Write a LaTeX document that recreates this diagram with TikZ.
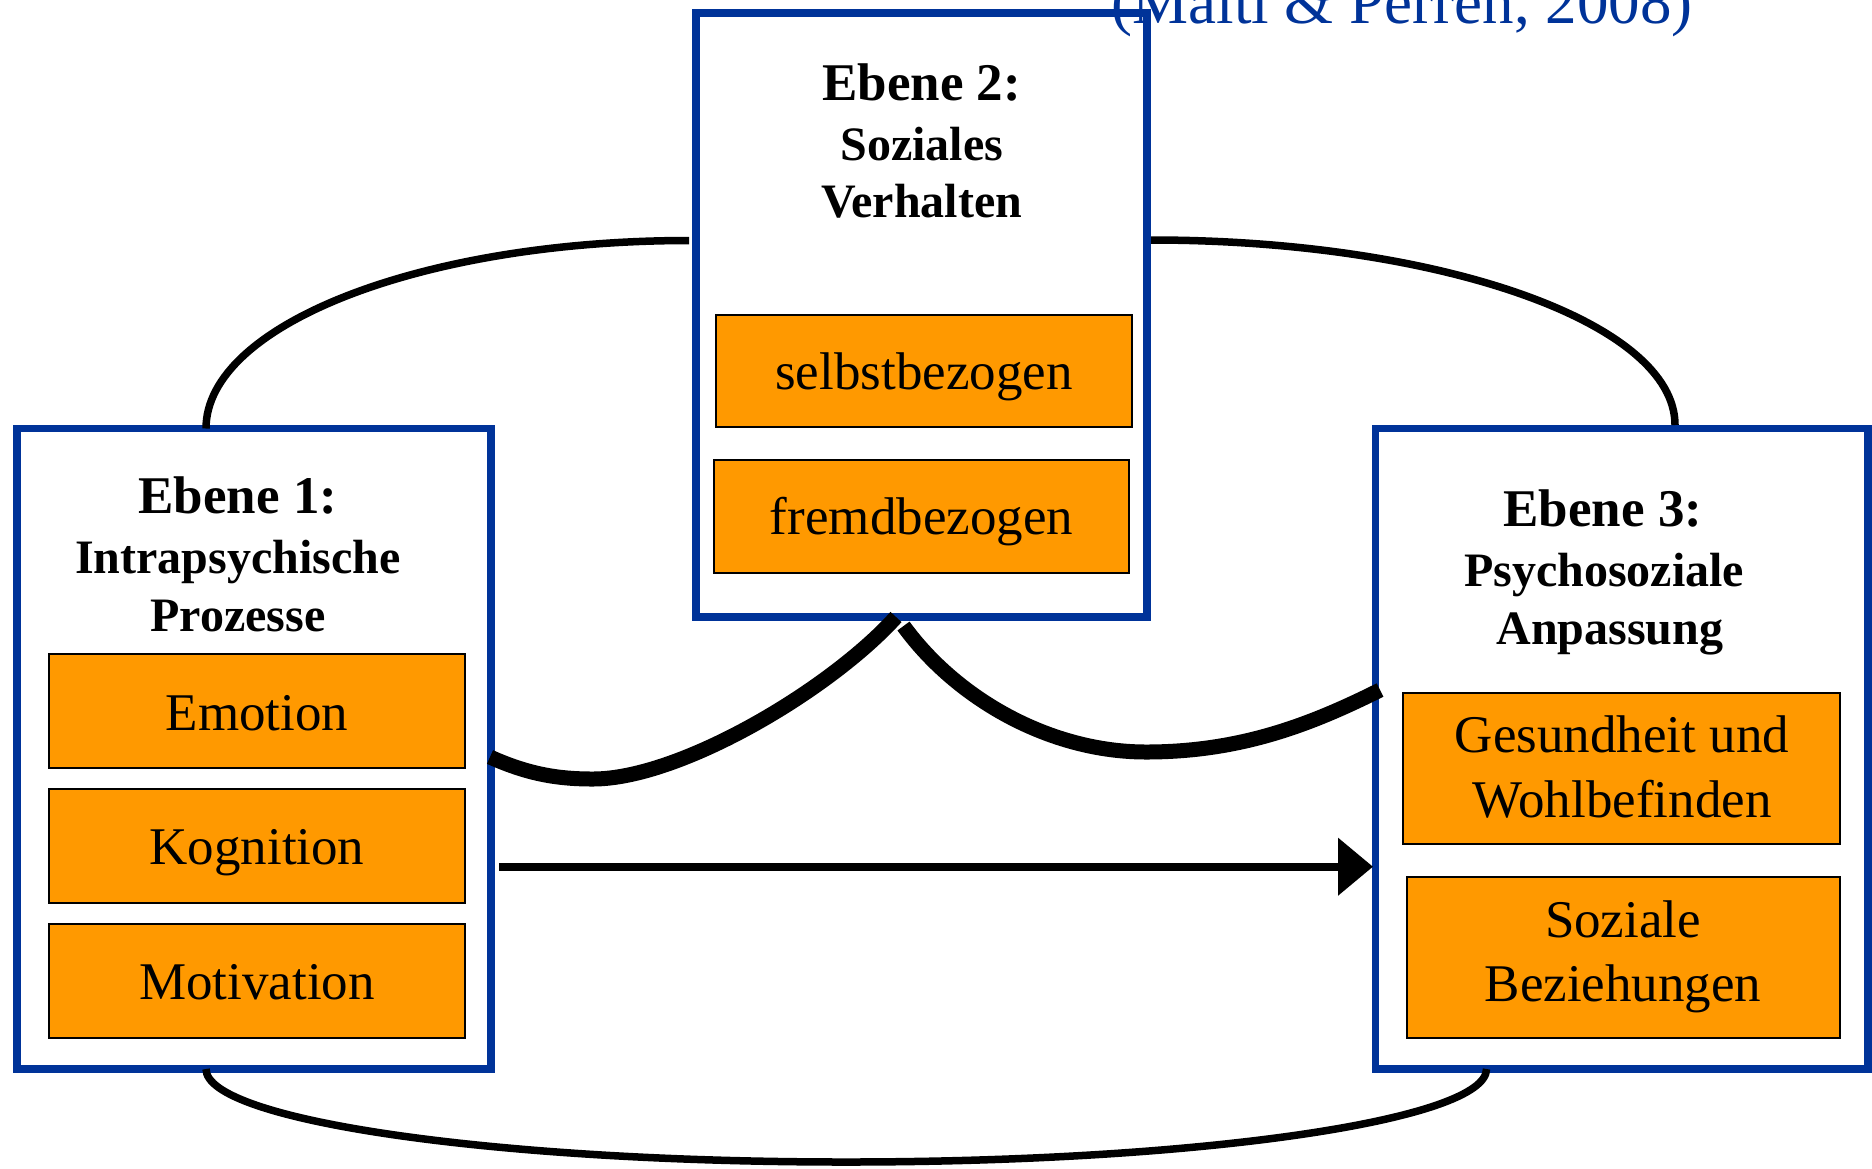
\documentclass[tikz,border=0pt]{standalone}
\usepackage{fontspec}
\setmainfont{Liberation Serif}
\usetikzlibrary{arrows.meta}
\definecolor{ebblue}{RGB}{0,51,153}
\definecolor{ebor}{RGB}{255,153,0}
\begin{document}
\begin{tikzpicture}[x=0.5pt,y=-0.5pt,
  ebox/.style={draw=ebblue, line width=3.85pt, fill=white, anchor=north west, outer sep=0pt, inner sep=0pt},
  obox/.style={draw=black, line width=1pt, fill=ebor, anchor=north west, outer sep=0pt, inner sep=0pt},
  ttl/.style={font=\fontsize{26.5}{30}\selectfont\bfseries, anchor=base, inner sep=0pt},
  sub/.style={font=\fontsize{24}{28}\selectfont\bfseries, anchor=base, inner sep=0pt},
  itm/.style={font=\fontsize{26.5}{30}\selectfont, anchor=base, inner sep=0pt},
  thinlink/.style={line width=3.75pt},
  thicklink/.style={line width=7.5pt},
]
\useasboundingbox (0,0) rectangle (1872,1168);
\clip (0,0) rectangle (1872,1168);

% level boxes
\node[ebox, minimum width=237pt, minimum height=320.25pt] (b1) at (17,428.5) {};
\node[ebox, minimum width=225.5pt, minimum height=301.85pt] (b2) at (696,13) {};
\node[ebox, minimum width=246.25pt, minimum height=320.25pt] (b3) at (1375.5,428.5) {};

% orange boxes
\node[obox, minimum width=208pt, minimum height=57pt] (emo) at (49,654) {};
\node[obox, minimum width=208pt, minimum height=57.25pt] (kog) at (49,788.5) {};
\node[obox, minimum width=208pt, minimum height=57pt] (mot) at (49,924) {};
\node[obox, minimum width=208pt, minimum height=56pt] (sel) at (716,315) {};
\node[obox, minimum width=207.5pt, minimum height=56.5pt] (fre) at (714,460) {};
\node[obox, minimum width=218.5pt, minimum height=75.25pt] (ges) at (1403,693) {};
\node[obox, minimum width=216.65pt, minimum height=80.05pt] (soz) at (1406.7,877.4) {};

% texts level 1
\node[ttl] (t1a) at (238,513.5) {Ebene 1:};
\node[sub] (t1b) at (238,573) {Intrapsychische};
\node[sub] (t1c) at (238,631) {Prozesse};
\node[itm] (temo) at (257,730) {Emotion};
\node[itm] (tkog) at (257,864) {Kognition};
\node[itm] (tmot) at (257,999) {Motivation};

% texts level 2
\node[ttl] (t2a) at (921.7,100) {Ebene 2:};
\node[sub] (t2b) at (921.7,160) {Soziales};
\node[sub] (t2c) at (921.7,217) {Verhalten};
\node[itm] (tsel) at (924,389) {selbstbezogen};
\node[itm] (tfre) at (921.5,534) {fremdbezogen};

% texts level 3
\node[ttl] (t3a) at (1603,526.7) {Ebene 3:};
\node[sub] (t3b) at (1604,586.6) {Psychosoziale};
\node[sub] (t3c) at (1610,644) {Anpassung};
\node[itm] (tges1) at (1622,752.7) {Gesundheit und};
\node[itm] (tges2) at (1622,817.5) {Wohlbefinden};
\node[itm] (tsoz1) at (1623,937.8) {Soziale};
\node[itm] (tsoz2) at (1623,1001.7) {Beziehungen};

% citation
\node[font=\fontsize{31.5}{36}\selectfont, text=ebblue, anchor=base, inner sep=0pt] (cite) at (1402,23) {(Malti \& Perren, 2008)};

% connector end points
\path (b1.north west) ++(189,0) coordinate (tlS);
\path (b2.north west) ++(-7,227.5) coordinate (tlE);
\path (b2.north east) ++(4,227) coordinate (trS);
\path (b3.north west) ++(299.5,-3.5) coordinate (trE);
\path (b1.south west) ++(189,0) coordinate (btS);
\path (b3.south west) ++(111,0) coordinate (btE);
\path (b1.north east) ++(-1,328.5) coordinate (k1S);
\path (b2.south west) ++(200,0.3) coordinate (k1E);
\path (b2.south west) ++(207.5,9.3) coordinate (k2S);
\path (b3.north west) ++(4.5,261.5) coordinate (k2E);
\path (b1.north east) ++(8,438.2) coordinate (arS);
\path (b3.north west) ++(-2.5,438.2) coordinate (arE);

% thin arcs
\draw[thinlink] (tlS) .. controls +(0,-103.8) and +(-266.8,0) .. (tlE);
\draw[thinlink] (trS) .. controls +(289.2,0) and +(0,-102.2) .. (trE);
\draw[thinlink] (btS) .. controls +(0,51.4) and +(-353.7,0) .. (846.2,1162)
  .. controls +(353.7,0) and +(0,51.4) .. (btE);

% thick curves
\draw[thicklink] (k1S) .. controls (530,775) and (560,779) .. (593,779)
  .. controls (680,779) and (830,690) .. (k1E);
\draw[thicklink] (k2S) .. controls (956.6,699) and (1050,752) .. (1146,752)
  .. controls (1240,752) and (1310,725) .. (k2E);

% straight arrow
\draw[line width=4pt, -{Triangle[length=17.5pt,width=28pt]}] (arS) -- (arE);
\end{tikzpicture}
\end{document}
